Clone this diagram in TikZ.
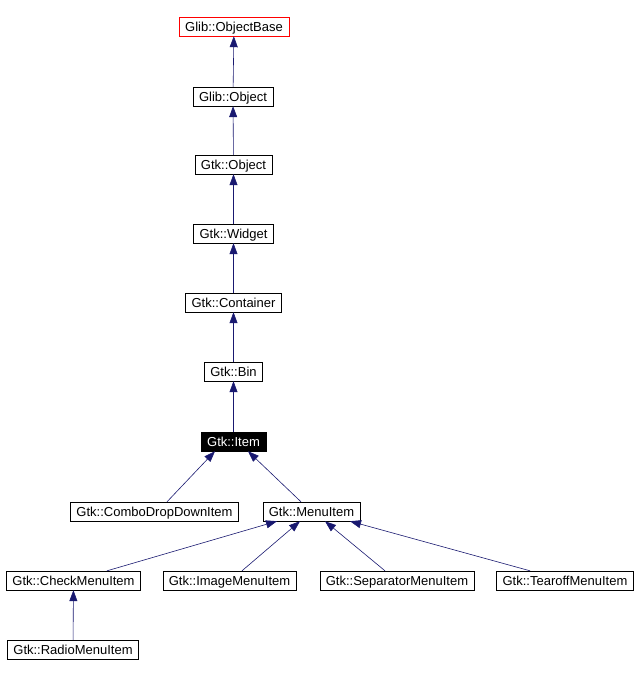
\documentclass[tikz,border=0pt]{standalone}
\usepackage{fontspec}
\setmainfont{Liberation Sans}
\usetikzlibrary{arrows.meta}
\definecolor{edgeblue}{HTML}{191970}
\begin{document}
\begin{tikzpicture}[x=1pt, y=-1pt, font=\fontsize{13}{14}\selectfont,
  class node/.style={draw, thin, rectangle, inner xsep=6pt, inner ysep=0pt, text height=9.5pt, text depth=0.5pt, minimum height=19pt},
  base node/.style={class node, draw=red},
  this node/.style={class node, fill=black, text=white},
  inh/.style={draw=edgeblue, line width=0.6pt, -{Triangle[length=11pt, width=8pt, fill=edgeblue]}}]
\useasboundingbox (0,0) rectangle (638,678);
% chain of base classes
\node[base node] (objbase) at (234,26.5) {Glib::ObjectBase};
\node[class node] (glibobj) at (233,96.5) {Glib::Object};
\node[class node] (gtkobj) at (233.5,164.5) {Gtk::Object};
\node[class node] (widget) at (233.5,233.5) {Gtk::Widget};
\node[class node] (container) at (233.5,302.5) {Gtk::Container};
\node[class node] (bin) at (233.5,371.5) {Gtk::Bin};
\node[this node] (item) at (233.5,441.5) {Gtk::Item};
% derived classes
\node[class node] (combo) at (154.5,511.5) {Gtk::ComboDropDownItem};
\node[class node] (menuitem) at (311.5,511.5) {Gtk::MenuItem};
\node[class node] (check) at (73.5,580.5) {Gtk::CheckMenuItem};
\node[class node] (image) at (229.5,580.5) {Gtk::ImageMenuItem};
\node[class node] (separator) at (397,580.5) {Gtk::SeparatorMenuItem};
\node[class node] (tearoff) at (565,580.5) {Gtk::TearoffMenuItem};
\node[class node] (radio) at (73,649.5) {Gtk::RadioMenuItem};
% inheritance
\draw[inh] (glibobj) -- (objbase);
\draw[inh] (gtkobj) -- (glibobj);
\draw[inh] (widget) -- (gtkobj);
\draw[inh] (container) -- (widget);
\draw[inh] (bin) -- (container);
\draw[inh] (item) -- (bin);
\draw[inh] ([xshift=12.5pt]combo.north) -- ([xshift=-18.5pt]item.south);
\draw[inh] ([xshift=-10.5pt]menuitem.north) -- ([xshift=14.5pt]item.south);
\draw[inh] ([xshift=33.5pt]check.north) -- ([xshift=-34.5pt]menuitem.south);
\draw[inh] ([xshift=12.5pt]image.north) -- ([xshift=-11.5pt]menuitem.south);
\draw[inh] ([xshift=-12pt]separator.north) -- ([xshift=13.5pt]menuitem.south);
\draw[inh] ([xshift=-35pt]tearoff.north) -- ([xshift=38.5pt]menuitem.south);
\draw[inh] (radio) -- (check);
\end{tikzpicture}
\end{document}
